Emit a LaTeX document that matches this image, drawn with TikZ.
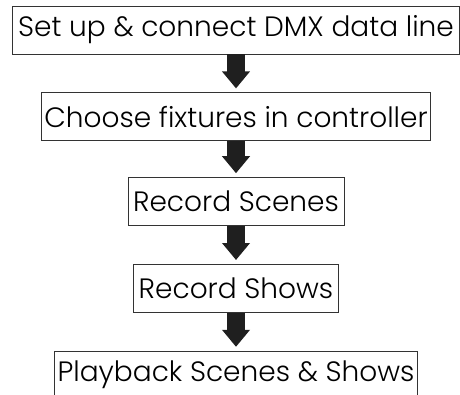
\documentclass[tikz,border=0pt]{standalone}
\usepackage{fontspec}
\setmainfont{Poppins}[UprightFont=* Light]
\usetikzlibrary{positioning,arrows.meta}

\begin{document}
\begin{tikzpicture}
    \useasboundingbox (0pt,0pt) rectangle (460pt,-394pt);
    \tikzset{StepStyle/.style={draw=black!80, line width=0.8pt,
        minimum height=48pt, inner xsep=3pt,
        font=\fontsize{28}{30}\selectfont}}
    \tikzset{FlowStyle/.style={draw=black!88, line width=18pt,
        -{Triangle[width=27pt,length=17pt]}, shorten >=4pt}}
    \node[StepStyle, minimum width=447pt] (1) at (236pt,-30pt) {Set up \& connect DMX data line};
    \node[StepStyle, below=38pt of 1] (2) {Choose fixtures in controller};
    \node[StepStyle, below=36pt of 2, minimum width=216pt] (3) {Record Scenes};
    \node[StepStyle, below=38pt of 3, minimum width=205pt] (4) {Record Shows};
    \node[StepStyle, below=38pt of 4] (5) {Playback Scenes \& Shows};
    \foreach \a/\b in {1/2,2/3,3/4,4/5}
        \draw[FlowStyle] (\a) -- (\b);
\end{tikzpicture}
\end{document}
